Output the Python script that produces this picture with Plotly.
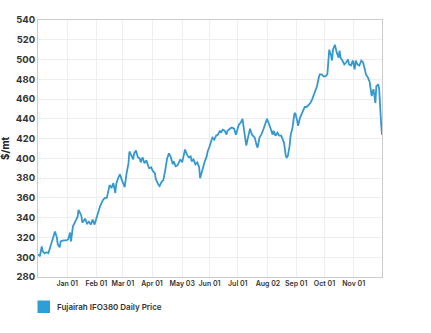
import plotly.graph_objects as go

dates = [
    "2020-12-01","2020-12-03","2020-12-05","2020-12-06","2020-12-08","2020-12-10","2020-12-12","2020-12-14",
    "2020-12-15","2020-12-17","2020-12-19","2020-12-21","2020-12-22","2020-12-24","2020-12-25","2020-12-28",
    "2020-12-31","2021-01-02","2021-01-04","2021-01-05","2021-01-07","2021-01-09","2021-01-12","2021-01-13",
    "2021-01-16","2021-01-17","2021-01-20","2021-01-22","2021-01-24","2021-01-26","2021-01-28","2021-01-30",
    "2021-02-01","2021-02-03","2021-02-05","2021-02-08","2021-02-10","2021-02-12","2021-02-14","2021-02-15",
    "2021-02-17","2021-02-19","2021-02-21","2021-02-22","2021-02-24","2021-02-26","2021-02-28","2021-03-02",
    "2021-03-03","2021-03-05","2021-03-07","2021-03-08","2021-03-10","2021-03-12","2021-03-13","2021-03-15",
    "2021-03-17","2021-03-19","2021-03-20","2021-03-22","2021-03-24","2021-03-26","2021-03-28","2021-03-29",
    "2021-03-31","2021-04-02","2021-04-04","2021-04-05","2021-04-08","2021-04-09","2021-04-11","2021-04-13",
    "2021-04-15","2021-04-17","2021-04-19","2021-04-21","2021-04-23","2021-04-24","2021-04-26","2021-04-28",
    "2021-04-30","2021-05-01","2021-05-03","2021-05-05","2021-05-06","2021-05-08","2021-05-10","2021-05-12",
    "2021-05-13","2021-05-15","2021-05-17","2021-05-19","2021-05-21","2021-05-22","2021-05-23","2021-05-25",
    "2021-05-27","2021-05-29","2021-05-30","2021-06-01","2021-06-03","2021-06-04","2021-06-06","2021-06-08",
    "2021-06-10","2021-06-12","2021-06-13","2021-06-15","2021-06-17","2021-06-19","2021-06-20","2021-06-22",
    "2021-06-24","2021-06-25","2021-06-27","2021-06-29","2021-06-30","2021-07-02","2021-07-04","2021-07-06",
    "2021-07-07","2021-07-08","2021-07-10","2021-07-12","2021-07-14","2021-07-16","2021-07-19","2021-07-21",
    "2021-07-22","2021-07-24","2021-07-26","2021-07-28","2021-07-30","2021-08-01","2021-08-03","2021-08-05",
    "2021-08-07","2021-08-08","2021-08-10","2021-08-12","2021-08-14","2021-08-16","2021-08-19","2021-08-21",
    "2021-08-22","2021-08-23","2021-08-25","2021-08-26","2021-08-28","2021-08-30","2021-08-31","2021-09-02",
    "2021-09-03","2021-09-05","2021-09-07","2021-09-09","2021-09-10","2021-09-12","2021-09-14","2021-09-16",
    "2021-09-18","2021-09-19","2021-09-21","2021-09-23","2021-09-25","2021-09-26","2021-09-28","2021-09-30",
    "2021-10-02","2021-10-04","2021-10-05","2021-10-06","2021-10-08","2021-10-09","2021-10-10","2021-10-12",
    "2021-10-14","2021-10-16","2021-10-17","2021-10-18","2021-10-20","2021-10-22","2021-10-24","2021-10-26",
    "2021-10-27","2021-10-29","2021-10-31","2021-11-02","2021-11-03","2021-11-05","2021-11-07","2021-11-09",
    "2021-11-11","2021-11-12","2021-11-14","2021-11-16","2021-11-18","2021-11-19","2021-11-20","2021-11-22",
    "2021-11-23","2021-11-24","2021-11-25","2021-11-27","2021-11-28","2021-11-29","2021-11-30","2021-12-01",
]

prices = [
    303, 301, 311, 306, 304, 305, 304, 310,
    313, 318, 326, 320, 313, 310, 316, 317,
    317, 318, 325, 316, 331, 335, 341, 348,
    342, 335, 339, 334, 336, 333, 338, 333,
    339, 347, 352, 358, 360, 360, 367, 373,
    370, 375, 365, 374, 380, 384, 378, 374,
    371, 385, 395, 407, 402, 399, 405, 408,
    401, 400, 396, 401, 395, 398, 392, 390,
    391, 387, 385, 379, 373, 372, 376, 378,
    388, 400, 405, 401, 394, 397, 392, 393,
    397, 399, 396, 406, 409, 404, 401, 402,
    397, 399, 394, 396, 391, 380, 384, 392,
    397, 402, 407, 412, 418, 421, 419, 423,
    424, 428, 426, 429, 428, 424, 428, 430,
    431, 431, 430, 424, 428, 434, 436, 440,
    433, 426, 413, 422, 430, 424, 421, 413,
    411, 421, 424, 429, 435, 440, 435, 429,
    424, 428, 423, 426, 423, 423, 416, 402,
    401, 402, 413, 423, 431, 445, 446, 438,
    433, 441, 445, 450, 452, 452, 454, 456,
    460, 463, 467, 473, 482, 485, 485, 483,
    483, 485, 497, 510, 504, 499, 510, 515,
    507, 502, 509, 502, 499, 495, 497, 500,
    495, 494, 499, 490, 499, 495, 494, 499,
    497, 492, 485, 482, 477, 470, 463, 470,
    460, 456, 473, 475, 470, 446, 436, 424,
]

tick_dates = ["2021-01-01", "2021-02-01", "2021-03-01", "2021-04-01", "2021-05-03", "2021-06-01",
              "2021-07-01", "2021-08-02", "2021-09-01", "2021-10-01", "2021-11-01"]
tick_labels = ["Jan 01", "Feb 01", "Mar 01", "Apr 01", "May 03", "Jun 01",
               "Jul 01", "Aug 02", "Sep 01", "Oct 01", "Nov 01"]

series_name = "Fujairah IFO380 Daily Price"
y_title = "$/mt"
line_color = "#3499cf"
legend_color = "#2e9fd6"

font_family = "Inter, Roboto, sans-serif"
W, H = 431, 333
ML, MR, MT, MB = 38, 49, 20, 56
PW = W - ML - MR
PH = H - MT - MB

fig = go.Figure()
fig.add_trace(go.Scatter(
    x=dates, y=prices, mode="lines",
    line=dict(color=line_color, width=1.8),
    showlegend=False, name=series_name,
))

# legend key (square + label) placed below the plot
def px_x(p):
    return (p - ML) / PW

def px_y(p):
    return 1 - (p - MT) / PH

fig.add_shape(type="rect", xref="paper", yref="paper",
              x0=px_x(37.5), x1=px_x(50), y0=px_y(313), y1=px_y(300.5),
              fillcolor=legend_color, line=dict(width=0))
fig.add_annotation(xref="paper", yref="paper", x=px_x(55), y=px_y(306.5),
                   xanchor="left", yanchor="middle", showarrow=False,
                   text=series_name,
                   font=dict(size=8, family=font_family, color="#333333", weight=600))
fig.add_annotation(xref="paper", yref="paper", x=px_x(4.5), y=0.5,
                   xanchor="center", yanchor="middle", showarrow=False,
                   text=y_title, textangle=-90,
                   font=dict(size=10, family=font_family, color="#222222", weight=700))

fig.update_layout(
    width=W, height=H,
    margin=dict(l=ML, r=MR, t=MT, b=MB),
    paper_bgcolor="white", plot_bgcolor="white",
    font=dict(family=font_family, color="#333333"),
    showlegend=False,
)
fig.update_xaxes(
    type="date",
    range=[dates[0], dates[-1]],
    tickvals=tick_dates, ticktext=tick_labels,
    tickfont=dict(size=7, family=font_family, color="#333333", weight=600),
    showgrid=True, gridcolor="#eeeeee", gridwidth=1,
    showline=True, linecolor="#cccccc", linewidth=1, mirror=True,
    ticks="", zeroline=False,
)
fig.update_yaxes(
    range=[280, 540], dtick=20,
    tickfont=dict(size=9.5, family=font_family, color="#333333", weight=700),
    showgrid=True, gridcolor="#eeeeee", gridwidth=1,
    showline=True, linecolor="#cccccc", linewidth=1, mirror=True,
    ticks="", zeroline=False,
)

fig.write_html("out.html")
